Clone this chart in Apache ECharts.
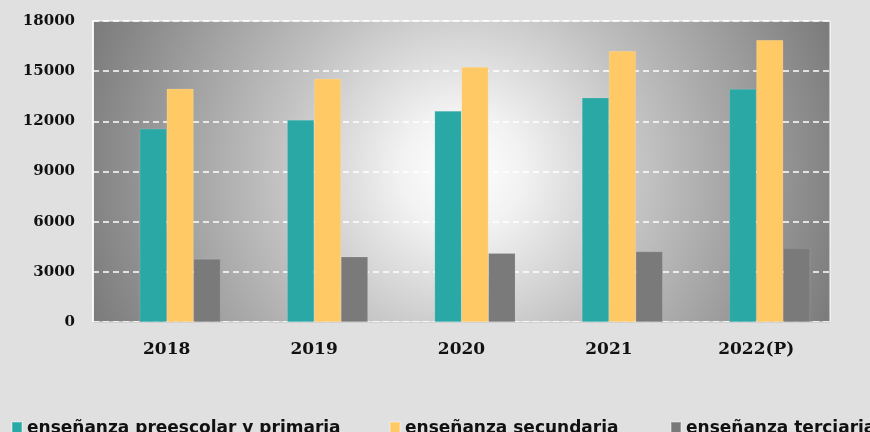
<!DOCTYPE html>
<html>
<head>
<meta charset="utf-8">
<title>enseñanza</title>
<script src="https://cdn.jsdelivr.net/npm/echarts@6/dist/echarts.min.js"></script>
<style>
  html, body { margin: 0; padding: 0; background: #e0e0e0; }
  #chart { width: 870px; height: 432px; }
</style>
</head>
<body>
<div id="chart"></div>
<script type="text/javascript">
    // datos
    var years = ['2018', '2019', '2020', '2021', '2022(P)'];
    var primaria = [11550, 12080, 12620, 13410, 13930];
    var secundaria = [13950, 14540, 15250, 16200, 16860];
    var terciaria = [3770, 3900, 4110, 4210, 4420];
    var vacia = [0, 0, 0, 0, 0];
    var yTicks = [0, 3000, 6000, 9000, 12000, 15000, 18000];

    var chart = echarts.init(document.getElementById('chart'));

    var legendText = {
      fontFamily: 'DejaVu Sans', fontWeight: 'bold', fontSize: 17, color: '#111'
    };

    var option = {
      backgroundColor: '#e0e0e0',
      animation: false,
      grid: {
        left: 93, right: 40, top: 21, bottom: 110,
        show: true,
        borderColor: '#fff',
        borderWidth: 1,
        backgroundColor: {
          type: 'radial', x: 0.5, y: 0.5, r: 1.35,
          colorStops: [
            { offset: 0, color: '#ffffff' },
            { offset: 0.15, color: '#f2f2f2' },
            { offset: 0.45, color: '#c2c2c2' },
            { offset: 0.75, color: '#999999' },
            { offset: 1, color: '#777777' }
          ]
        }
      },
      legend: [
        { left: 6, top: 415, data: ['enseñanza preescolar y primaria'], itemWidth: 10, itemHeight: 13, textStyle: legendText, icon: 'rect' },
        { left: 384, top: 415, data: ['enseñanza secundaria'], itemWidth: 10, itemHeight: 13, textStyle: legendText, icon: 'rect' },
        { left: 665, top: 415, data: ['enseñanza terciaria'], itemWidth: 10, itemHeight: 13, textStyle: legendText, icon: 'rect' }
      ],
      xAxis: {
        type: 'category',
        data: years,
        axisLine: { show: true, lineStyle: { color: '#d0d0d0', width: 1 } },
        axisTick: { show: false },
        axisLabel: {
          margin: 19,
          fontFamily: 'DejaVu Serif', fontWeight: 'bold', fontSize: 17, color: '#111'
        }
      },
      yAxis: {
        type: 'value',
        min: yTicks[0],
        max: yTicks[yTicks.length - 1],
        interval: 3000,
        axisLine: { show: true, lineStyle: { color: '#fff', width: 1.5 } },
        axisTick: { show: false },
        splitLine: { lineStyle: { color: '#fff', type: [6, 4], width: 1.5 } },
        axisLabel: {
          margin: 18,
          formatter: function (v) { return String(v); },
          fontFamily: 'DejaVu Serif', fontWeight: 'bold', fontSize: 15, color: '#111'
        }
      },
      series: [
        {
          name: '', type: 'bar', data: vacia,
          barGap: 0, barCategoryGap: '27%',
          itemStyle: { color: '#888' }
        },
        {
          name: 'enseñanza preescolar y primaria', type: 'bar', data: primaria,
          itemStyle: { color: '#2aa8a6', borderColor: 'rgba(255,255,255,0.25)', borderWidth: 0.5 }
        },
        {
          name: 'enseñanza secundaria', type: 'bar', data: secundaria,
          itemStyle: { color: '#ffca66', borderColor: 'rgba(255,255,255,0.25)', borderWidth: 0.5 }
        },
        {
          name: 'enseñanza terciaria', type: 'bar', data: terciaria,
          itemStyle: { color: '#7a7a7a', borderColor: 'rgba(255,255,255,0.25)', borderWidth: 0.5 }
        }
      ]
    };

    chart.setOption(option);
</script>
</body>
</html>
